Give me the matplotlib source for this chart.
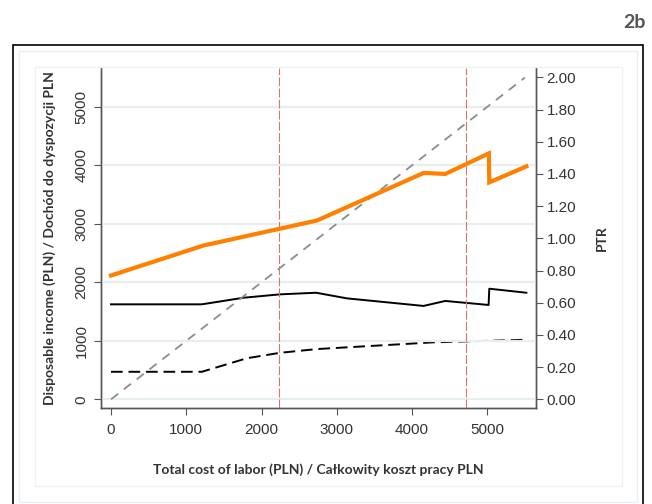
import matplotlib
matplotlib.use('Agg')
import matplotlib.pyplot as plt
from matplotlib.patches import Rectangle

# koszt pracy (PLN) i dochód do dyspozycji (PLN)
koszt_dochod = [0, 1227, 2735, 4153, 4441, 5020, 5026, 5519]
dochod = [2116, 2628, 3055, 3869, 3852, 4203, 3708, 3981]

# PTR - linia ciagla
koszt_ptr = [0, 1207, 1761, 2247, 2726, 3134, 4153, 4441, 5017, 5026, 5519]
ptr = [0.590, 0.590, 0.631, 0.652, 0.662, 0.627, 0.580, 0.611, 0.586, 0.687, 0.662]

# PTR - linia przerywana
koszt_ptr2 = [0, 1207, 1805, 2247, 2735, 4286, 5519]
ptr2 = [0.171, 0.171, 0.255, 0.289, 0.312, 0.354, 0.370]

# linia 45 stopni
koszt_diag = [0, 5500]
dochod_diag = [0, 5500]

# linie pionowe
pionowe = [2236, 4712]

x_ticks = [0, 1000, 2000, 3000, 4000, 5000]
y_ticks = [0, 1000, 2000, 3000, 4000, 5000]
ptr_ticks = [0.0, 0.2, 0.4, 0.6, 0.8, 1.0, 1.2, 1.4, 1.6, 1.8, 2.0]

fig = plt.figure(figsize=(6.52, 5.04), dpi=100)


def ramka(x0, y0, x1, y1, kolor, lw):
    # wspolrzedne w pikselach od lewego gornego rogu
    fig.patches.append(Rectangle((x0 / 652, 1 - y1 / 504), (x1 - x0) / 652, (y1 - y0) / 504,
                                 transform=fig.transFigure, fill=False, edgecolor=kolor, lw=lw))


ramka(12.5, 44.5, 643.5, 530, 'black', 1.2)
ramka(19, 51, 637, 502, '#e9eef0', 1.0)
ramka(35, 67, 622, 486, '#eef2f3', 1.0)

fig.text(0.99, 1 - 22 / 504, '2b', ha='right', va='center', fontsize=14,
         fontweight='bold', color='#555555', family='Lato')

ax = fig.add_axes([101 / 652, 1 - 408 / 504, (535.5 - 101) / 652, (408 - 68) / 504])
ax2 = ax.twinx()

ax.set_xlim(-133, 5640)
ax.set_ylim(-149, 5663)
ax2.set_ylim(-0.054, 2.058)

for y in y_ticks:
    ax.axhline(y, color='#e6eef0', lw=1.6, zorder=0)

for x in pionowe:
    ax.axvline(x, color='#e07070', lw=0.8, dashes=(8, 2), zorder=1)

ax.plot(koszt_diag, dochod_diag, color='#8c8c8c', lw=1.3, dashes=(5, 4), zorder=2)
ax.plot(koszt_dochod, dochod, color='#ff8000', lw=3.0, solid_joinstyle='miter', zorder=4)
ax2.plot(koszt_ptr, ptr, color='black', lw=1.4, zorder=3)
ax2.plot(koszt_ptr2, ptr2, color='black', lw=1.4, dashes=(6, 3), zorder=3)

ax.set_xticks(x_ticks)
ax.set_yticks(y_ticks)
ax2.set_yticks(ptr_ticks)
ax2.set_yticklabels(['%.2f' % t for t in ptr_ticks])

ax.set_yticklabels([str(t) for t in y_ticks], rotation=90, va='center')

for a in (ax, ax2):
    a.spines['top'].set_visible(False)
    for s in a.spines.values():
        s.set_color('#555555')
        s.set_linewidth(1.0)
    a.tick_params(direction='out', length=5, width=0.8, color='#555555',
                  labelcolor='#333333', labelsize=11)
    for lab in a.get_xticklabels() + a.get_yticklabels():
        lab.set_family('Liberation Sans')

ax.tick_params(axis='x', pad=6)
ax.tick_params(axis='y', pad=4)
ax2.tick_params(axis='y', pad=3)

ax.set_xlabel('Total cost of labor (PLN) / Całkowity koszt pracy PLN', fontsize=10,
              fontweight='bold', color='#333333', family='Lato', labelpad=19)
ax.set_ylabel('Disposable income (PLN) / Dochód do dyspozycji PLN', fontsize=10,
              fontweight='bold', color='#333333', family='Lato', labelpad=13)
ax2.set_ylabel('PTR', fontsize=10, fontweight='bold', color='#333333', family='Lato',
               labelpad=14)

ax.set_zorder(ax2.get_zorder() + 1)
ax.patch.set_visible(False)

plt.savefig('out.png', dpi=100)
plt.close()
